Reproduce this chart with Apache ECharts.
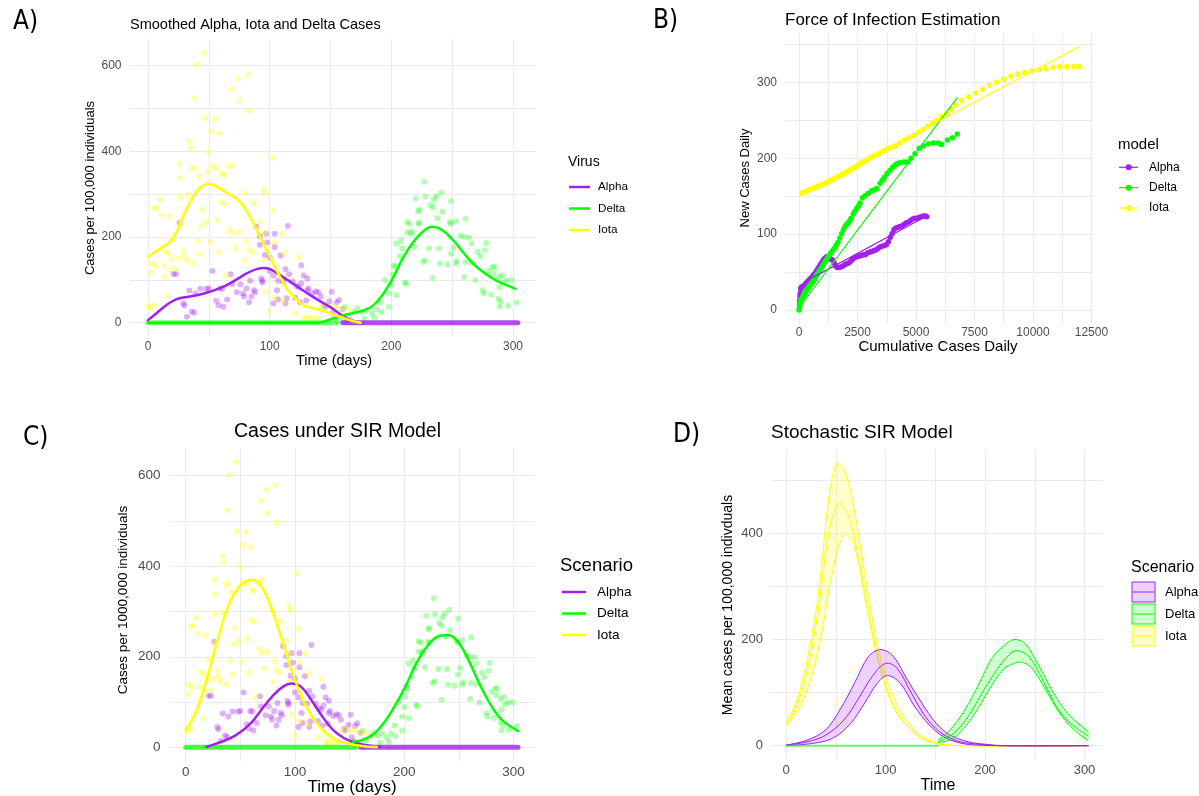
<!DOCTYPE html>
<html><head><meta charset="utf-8">
<script src="https://cdn.jsdelivr.net/npm/echarts@6/dist/echarts.min.js"></script>
<style>html,body{margin:0;padding:0;background:#fff}#c{width:1199px;height:796px}</style>
</head><body><div id="c"></div><script>
// ---------- tick values ----------
const timeMajor = [0, 100, 200, 300], timeMinor = [50, 150, 250];
const caseMajor = [0, 200, 400, 600], caseMinor = [100, 300, 500];
const cumMajor = [0, 2500, 5000, 7500, 10000, 12500], cumMinor = [1250, 3750, 6250, 8750, 11250];
const newMajor = [0, 100, 200, 300], newMinor = [50, 150, 250, 350];
const meanMajor = [0, 200, 400], meanMinor = [100, 300, 500];

// ---------- observed daily cases (panels A and C) ----------
const iotaPts = [[0,37],[2,36],[5,41],[3,138],[3,118],[6,134],[5,268],[7,268],[10,286],[11,251],[13,134],[14,167],[14,107],[16,63],[17,162],[18,123],[19,149],[18,248],[21,194],[23,125],[25,150],[26,371],[26,338],[27,293],[27,230],[29,169],[30,156],[32,145],[33,298],[34,424],[35,408],[36,360],[37,139],[39,360],[38,524],[40,602],[41,191],[42,342],[43,160],[44,227],[45,264],[46,630],[47,478],[48,235],[49,352],[50,398],[51,189],[52,447],[53,365],[55,476],[56,361],[57,240],[58,165],[59,442],[60,281],[61,348],[62,345],[63,278],[64,110],[66,365],[67,219],[69,544],[70,369],[70,209],[72,174],[74,569],[75,211],[75,517],[80,302],[80,146],[81,190],[82,579],[83,496],[83,171],[86,164],[87,279],[92,236],[95,146],[95,312],[96,302],[96,209],[97,72],[100,26],[102,385],[103,262],[104,187],[104,58],[110,208],[111,51],[112,163],[121,22],[124,152],[128,12],[130,10],[133,12],[136,9],[139,12],[142,36],[146,40],[150,37],[155,38],[160,34],[165,30]];
const alphaPts = [[21,114],[23,114],[26,233],[29,45],[30,40],[32,14],[34,75],[36,26],[38,23],[39,68],[43,79],[48,79],[50,80],[53,121],[56,51],[58,41],[59,80],[61,79],[62,37],[65,54],[68,113],[69,90],[73,71],[76,90],[78,68],[79,61],[81,80],[83,48],[84,98],[85,61],[87,76],[88,71],[89,224],[92,201],[92,182],[93,103],[94,98],[94,94],[96,158],[97,208],[98,187],[100,152],[100,121],[103,110],[103,45],[104,208],[104,177],[106,76],[107,54],[107,98],[109,157],[111,96],[113,45],[113,125],[114,57],[115,226],[116,113],[119,96],[121,58],[122,86],[124,83],[125,48],[126,92],[126,134],[128,110],[130,52],[131,103],[131,76],[132,80],[135,69],[138,73],[140,71],[142,61],[145,41],[146,37],[149,50],[151,72],[152,22],[154,13],[155,47],[157,53],[160,32],[163,2]];
const deltaPts = [[155,5],[160,8],[162,37],[165,15],[169,25],[172,33],[176,25],[178,10],[180,30],[184,21],[186,12],[188,30],[191,48],[192,25],[195,100],[198,68],[198,37],[200,89],[201,112],[202,134],[203,130],[204,185],[204,64],[207,155],[208,192],[209,173],[211,94],[212,91],[213,211],[213,235],[215,231],[216,208],[217,213],[219,177],[220,290],[222,260],[222,233],[223,264],[223,231],[226,142],[227,329],[228,294],[228,146],[231,173],[232,275],[234,269],[234,105],[235,288],[237,295],[238,244],[239,173],[240,138],[241,304],[242,259],[246,136],[248,235],[249,161],[249,284],[249,231],[251,175],[253,138],[253,237],[254,144],[257,203],[260,200],[260,107],[261,243],[261,142],[264,199],[266,185],[266,140],[269,99],[271,165],[273,155],[275,76],[276,68],[277,169],[278,186],[280,122],[282,65],[283,130],[284,115],[285,130],[288,107],[288,56],[289,83],[289,37],[290,49],[291,111],[292,95],[295,99],[296,39],[299,99],[303,47]];
const deltaZeroRun = [[0,0],[155,0]];
const alphaZeroRun = [[160,0],[304,0]];

// ---------- panel A smoothed curves ----------
const iotaSmooth = [[0,154],[10,173],[18,189],[23.6,212],[29,249],[37,294],[44,318],[49.6,324],[56.4,318],[64.7,303],[72.9,290],[79.7,267],[86.6,232],[93.4,193],[100.3,154],[107,115],[114,80],[121,57],[127.7,41],[138.6,32],[146,26],[153,18],[160.5,11],[168,4],[175,0]];
const alphaSmooth = [[0,6],[7,22],[15,41],[23.6,55],[31.8,60],[40,64],[48,70],[56.4,78],[64.7,88],[72.9,101],[81,115],[89.3,125],[94.8,128],[100.3,125],[108.5,111],[116.7,96],[125,80],[133,65],[141,51],[149.6,37],[155,26],[160.5,15],[166,7],[172,2],[176,0]];
const deltaSmooth = [[0,0],[140,0],[145,3],[151,9],[160,17],[169,23],[178,29],[185,40],[192.5,64],[201,103],[210,154],[219,192],[227.7,217],[233.5,224],[242,216],[251,192],[260,161],[268.7,134],[277.5,114],[286,99],[295,87],[302,79]];

// ---------- panel C SIR curves ----------
const iotaSIR = [[0,38],[10,82],[20,156],[30,244],[40,318],[50,357],[61,370],[70,352],[79,303],[89,230],[99,156],[108.8,97],[118.6,57],[128.5,31],[138,16],[151.5,7],[161,3],[175,0.5]];
const alphaSIR = [[19,1],[33,12.5],[46,27],[59.5,53],[69,82],[79,112],[89,134],[97,141],[105.5,134],[115,104],[125,68],[135,38],[145,20],[155,10],[164.6,5],[178,1]];
const deltaSIR = [[153,12.5],[161,16],[171,27],[181,53],[191,90],[201,134],[211,186],[220.5,222],[230,244],[240,248],[250,230],[260,186],[270,134],[280,90],[289.5,60],[304,36]];

// ---------- panel B force of infection ----------
const alphaFoi = [[20,8],[30,13],[40,18],[50,22],[70,28],[100,30],[150,31],[200,32],[260,34],[320,36],[380,38],[440,40],[500,42],[560,44],[620,46],[680,48],[740,51],[800,54],[860,57],[920,60],[980,63],[1040,66],[1100,68],[1160,70],[1220,70],[1290,69],[1360,67],[1430,66],[1500,62],[1560,58],[1640,56],[1720,56],[1800,57],[1880,58],[1960,60],[2040,61],[2120,62],[2200,64],[2290,67],[2380,69],[2470,71],[2560,71],[2650,72],[2740,73],[2830,73],[2920,75],[3010,76],[3100,77],[3190,78],[3280,79],[3370,81],[3460,83],[3550,84],[3640,85],[3730,86],[3820,90],[3900,96],[3980,101],[4060,106],[4140,108],[4230,109],[4320,110],[4410,111],[4500,113],[4590,115],[4680,116],[4770,118],[4860,120],[4950,121],[5040,121],[5130,122],[5220,123],[5310,124],[5400,124],[5460,123]];
const deltaFoi = [[0,0],[15,3],[30,6],[50,9],[75,12],[100,14],[130,16],[165,18],[200,20],[240,22],[280,24],[320,26],[365,28],[410,30],[455,32],[500,34],[550,36],[600,38],[650,40],[700,43],[750,46],[800,48],[860,51],[920,54],[980,57],[1040,60],[1100,63],[1160,66],[1220,69],[1290,72],[1360,75],[1430,78],[1500,81],[1580,85],[1660,89],[1740,95],[1823,101],[1900,106],[1966,110],[2040,113],[2108,115],[2170,118],[2222,121],[2322,127],[2390,130],[2464,134],[2540,137],[2607,141],[2707,148],[2830,151],[2963,154],[3105,157],[3200,158],[3319,160],[3462,167],[3560,171],[3647,175],[3760,180],[3889,184],[4000,188],[4103,191],[4210,193],[4316,194],[4487,195],[4644,195],[4786,200],[4957,206],[5142,213],[5313,216],[5527,219],[5741,220],[5954,220],[6097,218],[6339,224],[6553,227],[6766,232]];
const iotaFoi = [[107,154],[180,155],[260,156],[340,157],[420,158],[500,159],[580,160],[660,161],[740,162],[820,163],[900,164],[980,165],[1060,166],[1140,167],[1220,169],[1300,170],[1380,171],[1460,172],[1540,174],[1620,175],[1700,176],[1780,178],[1860,179],[1940,180],[2020,182],[2100,183],[2190,185],[2280,186],[2370,188],[2460,189],[2550,191],[2640,193],[2730,195],[2830,196],[2930,198],[3030,200],[3130,202],[3240,204],[3350,205],[3460,207],[3580,209],[3700,211],[3825,213],[3950,214],[4100,216],[4300,220],[4500,224],[4700,227],[4900,230],[5100,234],[5300,238],[5500,242],[5700,246],[5900,250],[6100,255],[6300,259],[6500,265],[6700,270],[6950,276],[7250,281],[7550,286],[7850,291],[8150,296],[8450,300],[8750,304],[9050,308],[9350,311],[9650,313],[9950,315],[10250,317],[10550,318],[10850,320],[11150,321],[11450,321],[11750,321],[11966,321]];
const alphaFit = [[600,43],[5460,124]];
const deltaFit = [[0,3],[6766,280]];
const iotaFit = [[107,153],[11966,347]];

// ---------- panel D stochastic SIR ----------
const iotaUpperD = [[0,42],[11,86],[22,168],[33,293],[43.6,475],[51.5,532],[60,513],[68.6,444],[77.6,343],[86.5,243],[97,149],[108,92],[118.7,55],[133,23],[147,7.5],[165,1],[185,0],[304,0]];
const iotaMeanD = [[0,39],[11,75],[22,146],[33,262],[43.6,406],[53,456],[63,431],[72,362],[83,249],[93.7,155],[104,92],[115,51],[126,30],[140,11],[158,2.5],[180,0],[304,0]];
const iotaLowerD = [[0,38],[12,66],[25.7,130],[36.5,218],[47,331],[58.6,397],[68.6,375],[79,281],[90,180],[101,105],[111.5,61],[122,36],[136,14],[154,3],[175,0],[304,0]];
const alphaUpperD = [[0,1],[22,11],[40,30],[54,67],[68.6,117],[83,168],[95.5,181],[108,168],[122,124],[136.6,80],[151,42],[165,20],[183,7.5],[201,2.5],[220,0],[304,0]];
const alphaMeanD = [[0,1],[22,7.5],[40,20],[58,48],[72,86],[86.5,130],[100,155],[111.5,146],[126,99],[140,55],[154.5,26],[172,9],[194,2.5],[215,0],[304,0]];
const alphaLowerD = [[0,0.5],[25.7,4],[47,14],[65,42],[79,80],[91.5,117],[102,132],[115,117],[129.5,73],[144,39],[158,17],[176,4.5],[195,1],[215,0],[304,0]];
const deltaUpperD = [[153,11],[165,30],[179.5,67],[194,117],[208,168],[222,193],[229.5,200],[240,193],[254.6,149],[269,99],[283,61],[304,26]];
const deltaMeanD = [[153,8],[168.5,23],[183,55],[197,99],[211.7,143],[224,171],[232,179],[244,168],[258,124],[272,73],[286,42],[304,18]];
const deltaLowerD = [[153,6],[165,11],[175.6,26],[190,61],[204,105],[218,143],[229.5,155],[237.5,157],[247,146],[261,105],[275,61],[289.5,30],[304,9]];
const deltaZeroD = [[0,0],[153,0]];

const variants = ['Alpha', 'Delta', 'Iota'];

// ---------- styling ----------
const C_ALPHA = '#A020F0', C_DELTA = '#00FF00', C_IOTA = '#FFFF00';
const colors = [C_ALPHA, C_DELTA, C_IOTA];
const FONT = '"Liberation Sans", Arial, sans-serif';
const NARROW = '"Liberation Sans Narrow", "DejaVu Sans Condensed", sans-serif';

function valAxis(gi, min, max, majors, minors, fs, margin) {
  return {
    type: 'value', gridIndex: gi, min: min, max: max,
    axisLine: {show: false},
    axisTick: {show: false, customValues: majors.concat(minors)},
    axisLabel: {customValues: majors, color: '#4d4d4d', fontSize: fs, fontFamily: FONT, margin: margin,
      formatter: function (v) { return String(v); }},
    splitLine: {show: true, lineStyle: {color: '#ebebeb', width: 1}}
  };
}
function scat(i, data, color, size, op) {
  return {type: 'scatter', xAxisIndex: i, yAxisIndex: i, data: data, symbol: 'circle', symbolSize: size,
    itemStyle: {color: color, opacity: op}, silent: true};
}
function line(i, data, color, width, smooth, op) {
  return {type: 'line', xAxisIndex: i, yAxisIndex: i, data: data, symbol: 'none', smooth: smooth,
    lineStyle: {color: color, width: width, opacity: op == null ? 1 : op, cap: 'round'}, silent: true};
}
function band(i, upper, mean, lower, color, fill) {
  return {
    type: 'custom', xAxisIndex: i, yAxisIndex: i, data: [[0, 0]], clip: true, silent: true,
    renderItem: function (params, api) {
      const up = upper.map(p => api.coord(p));
      const me = mean.map(p => api.coord(p));
      const lo = lower.map(p => api.coord(p));
      const poly = up.concat(lo.slice().reverse());
      const sm = 0.35;
      return {type: 'group', children: [
        {type: 'polygon', shape: {points: poly, smooth: sm}, style: {fill: fill, stroke: null}},
        {type: 'polyline', shape: {points: up, smooth: sm}, style: {stroke: color, lineWidth: 1, fill: null}},
        {type: 'polyline', shape: {points: me, smooth: sm}, style: {stroke: color, lineWidth: 1, fill: null}},
        {type: 'polyline', shape: {points: lo, smooth: sm}, style: {stroke: color, lineWidth: 1, fill: null}}
      ]};
    }
  };
}

const PT = 6, PTOP = 0.35;
const series = [
  // Panel A
  line(0, deltaZeroRun, C_DELTA, 5, false, 0.55),
  line(0, alphaZeroRun, C_ALPHA, 5, false, 0.8),
  scat(0, alphaPts, C_ALPHA, PT, PTOP),
  scat(0, deltaPts, C_DELTA, PT, 0.3),
  scat(0, iotaPts, C_IOTA, PT, PTOP),
  line(0, alphaSmooth, C_ALPHA, 2.5, 0.4),
  line(0, deltaSmooth, C_DELTA, 2.5, 0.4),
  line(0, iotaSmooth, C_IOTA, 2.5, 0.4),
  // Panel B
  scat(1, alphaFoi, C_ALPHA, 5.5, 1),
  scat(1, deltaFoi, C_DELTA, 5.5, 1),
  scat(1, iotaFoi, C_IOTA, 5.5, 1),
  line(1, alphaFit, C_ALPHA, 1.2, false),
  line(1, deltaFit, C_DELTA, 1.2, false),
  line(1, iotaFit, C_IOTA, 1.2, false),
  // Panel C
  line(2, deltaZeroRun, C_DELTA, 5, false, 0.75),
  line(2, alphaZeroRun, C_ALPHA, 5, false, 0.8),
  scat(2, alphaPts, C_ALPHA, PT, PTOP),
  scat(2, deltaPts, C_DELTA, PT, 0.3),
  scat(2, iotaPts, C_IOTA, PT, PTOP),
  line(2, alphaSIR, C_ALPHA, 2.5, 0.4),
  line(2, deltaSIR, C_DELTA, 2.5, 0.4),
  line(2, iotaSIR, C_IOTA, 2.5, 0.4),
  // Panel D
  line(3, deltaZeroD, C_DELTA, 2, false, 0.6),
  band(3, iotaUpperD, iotaMeanD, iotaLowerD, C_IOTA, 'rgba(255,255,0,0.2)'),
  band(3, alphaUpperD, alphaMeanD, alphaLowerD, C_ALPHA, 'rgba(160,32,240,0.2)'),
  band(3, deltaUpperD, deltaMeanD, deltaLowerD, C_DELTA, 'rgba(0,255,0,0.18)')
];

// ---------- text & legends ----------
function txt(x, y, s, size, opt) {
  opt = opt || {};
  return {type: 'text', x: x, y: y, rotation: opt.rot || 0, silent: true,
    style: {text: s, fontSize: size, fontFamily: opt.font || FONT, fill: opt.color || '#000',
      align: opt.align || 'left', verticalAlign: 'middle'}};
}
const graphics = [
  txt(13, 22, 'A)', 26, {font: NARROW}),
  txt(653, 21, 'B)', 26, {font: NARROW}),
  txt(23, 438, 'C)', 26, {font: NARROW}),
  txt(673, 435, 'D)', 26, {font: NARROW}),
  txt(130, 25, 'Smoothed Alpha, Iota and Delta Cases', 14.5),
  txt(785, 20, 'Force of Infection Estimation', 17),
  txt(234, 432, 'Cases under SIR Model', 19.5),
  txt(771, 433, 'Stochastic SIR Model', 19),
  txt(334, 361, 'Time (days)', 14.5, {align: 'center'}),
  txt(90.5, 188, 'Cases per 100,000 individuals', 13, {align: 'center', rot: Math.PI / 2}),
  txt(938, 347, 'Cumulative Cases Daily', 15, {align: 'center'}),
  txt(745, 178, 'New Cases Daily', 13, {align: 'center', rot: Math.PI / 2}),
  txt(352, 787, 'Time (days)', 17, {align: 'center'}),
  txt(123, 600, 'Cases per 1000,000 individuals', 13.5, {align: 'center', rot: Math.PI / 2}),
  txt(938, 786, 'Time', 16, {align: 'center'}),
  txt(727.7, 605, 'Mean cases per 100,000 indivduals', 14, {align: 'center', rot: Math.PI / 2}),
  txt(568, 162, 'Virus', 14),
  txt(1118, 145, 'model', 15),
  txt(560, 566, 'Scenario', 18.5),
  txt(1131, 568, 'Scenario', 16)
];
variants.forEach(function (name, i) {
  // A legend
  let y = 187 + i * 21.5;
  graphics.push({type: 'line', silent: true, shape: {x1: 569, y1: y, x2: 590, y2: y}, style: {stroke: colors[i], lineWidth: 2.5}});
  graphics.push(txt(598, y, name, 11.7));
  // B legend
  y = 167.3 + i * 20.35;
  graphics.push({type: 'line', silent: true, shape: {x1: 1119, y1: y, x2: 1138, y2: y}, style: {stroke: colors[i], lineWidth: 1.2}});
  graphics.push({type: 'circle', silent: true, shape: {cx: 1128.7, cy: y, r: 3}, style: {fill: colors[i]}});
  graphics.push(txt(1149, y, name, 12));
  // C legend
  y = 592 + i * 21.5;
  graphics.push({type: 'line', silent: true, shape: {x1: 562, y1: y, x2: 586, y2: y}, style: {stroke: colors[i], lineWidth: 2.5}});
  graphics.push(txt(597, y, name, 13.5));
  // D legend
  const fills = ['rgba(160,32,240,0.2)', 'rgba(0,255,0,0.18)', 'rgba(255,255,0,0.2)'];
  y = 582 + i * 22;
  graphics.push({type: 'rect', silent: true, shape: {x: 1132, y: y, width: 23, height: 20}, style: {fill: fills[i], stroke: colors[i], lineWidth: 1}});
  graphics.push({type: 'line', silent: true, shape: {x1: 1133, y1: y + 10, x2: 1154, y2: y + 10}, style: {stroke: colors[i], lineWidth: 1}});
  graphics.push(txt(1165, y + 10, name, 13));
});

const option = {
  backgroundColor: '#fff',
  animation: false,
  grid: [
    {left: 129.5, top: 39.4, width: 406.9, height: 296.8, outerBoundsMode: 'none'},
    {left: 785, top: 33.5, width: 308.8, height: 289.7, outerBoundsMode: 'none'},
    {left: 169.1, top: 447.8, width: 365.5, height: 313.8, outerBoundsMode: 'none'},
    {left: 770.9, top: 449.1, width: 332.7, height: 310.7, outerBoundsMode: 'none'}
  ],
  xAxis: [
    valAxis(0, -15.2, 319.2, timeMajor, timeMinor, 12, 4.5),
    valAxis(1, -600, 12600, cumMajor, cumMinor, 12, 3),
    valAxis(2, -15.2, 319.2, timeMajor, timeMinor, 13.5, 4),
    valAxis(3, -15.2, 319.2, timeMajor, timeMinor, 13, 4.5)
  ],
  yAxis: [
    valAxis(0, -31.5, 661.5, caseMajor, caseMinor, 12, 8),
    valAxis(1, -17.35, 364.35, newMajor, newMinor, 12, 8),
    valAxis(2, -31.5, 661.5, caseMajor, caseMinor, 13.5, 8.5),
    valAxis(3, -26.6, 558.6, meanMajor, meanMinor, 13, 8)
  ],
  series: series,
  graphic: graphics
};
const chart = echarts.init(document.getElementById('c'));
chart.setOption(option);
</script></body></html>
